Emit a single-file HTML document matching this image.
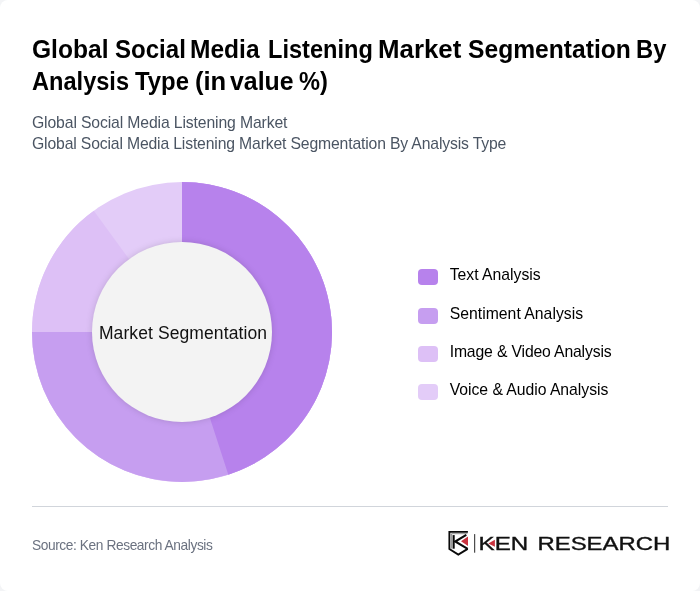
<!DOCTYPE html>
<html lang="en"><head><meta charset="utf-8"><title>Global Social Media Listening Market Segmentation By Analysis Type</title>
<style>
*{box-sizing:border-box;margin:0;padding:0}
html,body{width:700px;height:591px;background:#f3f4f6;overflow:hidden}
body{font-family:"Liberation Sans",sans-serif;position:relative}
.card{position:absolute;left:0;top:0;width:700px;height:591px;background:#fff;border-radius:8px;overflow:hidden}
h1{position:absolute;left:32px;top:32.5px;font-size:26.25px;font-weight:700;line-height:32.5px;color:#000;white-space:nowrap}
h1 span span{position:absolute;top:0;transform-origin:0 0}
h1 .l2 span{top:32.5px}
.sub{position:absolute;left:32px;top:112px;font-size:15.75px;line-height:21px;color:#4b5563;white-space:nowrap}
.donut{position:absolute;left:32px;top:182px;width:300px;height:300px}
.center{position:absolute;left:83px;width:200px;text-align:center;top:322px;line-height:22px;font-size:17.5px;color:#111;white-space:nowrap;letter-spacing:.1px}
.legend{position:absolute;left:418px;top:0;list-style:none}
.legend li{position:absolute;left:0;height:16px;font-size:15.75px;line-height:16px;color:#000;white-space:nowrap;padding-left:31.7px}
.legend i{position:absolute;left:0;top:0;width:20px;height:16px;border-radius:4px}
.legend span{position:relative;top:-2.5px}
.hr{position:absolute;left:32px;top:506px;width:636px;height:1px;background:#d1d5db}
.src{position:absolute;left:32px;top:537px;font-size:13.75px;line-height:18px;color:#6b7280;white-space:nowrap;letter-spacing:-.42px}
.logo{position:absolute;left:440px;top:524px;width:240px;height:40px}
</style></head><body>
<div class="card">
<h1><span class="l1"><span style="left:0.31px;transform:scaleX(0.9365)">Global</span> <span style="left:82.81px;transform:scaleX(0.9164)">Social</span> <span style="left:158.36px;transform:scaleX(0.9347)">Media</span> <span style="left:235.93px;transform:scaleX(0.8985)">Listening</span> <span style="left:346.28px;transform:scaleX(0.9848)">Market</span> <span style="left:436.05px;transform:scaleX(0.9387)">Segmentation</span> <span style="left:604.42px;transform:scaleX(0.9048)">By</span></span> <span class="l2"><span style="left:-0.17px;transform:scaleX(0.8988)">Analysis</span> <span style="left:103.27px;transform:scaleX(0.9099)">Type</span> <span style="left:163.28px;transform:scaleX(0.9744)">(in</span> <span style="left:198.26px;transform:scaleX(0.9470)">value</span> <span style="left:267.32px;transform:scaleX(0.9000)">%)</span></span></h1>
<div class="sub"><span style="letter-spacing:-.13px">Global Social Media Listening Market</span><br><span style="letter-spacing:-.16px">Global Social Media Listening Market Segmentation By Analysis Type</span></div>
<svg class="donut" viewBox="0 0 300 300">
<circle cx="150" cy="150" r="150" fill="#e3ccf8"/>
<path d="M150 150 L150.000 0.000 A150 150 0 1 1 61.832 28.647 Z" fill="#ddc0f6"/>
<path d="M150 150 L150.000 0.000 A150 150 0 1 1 0.000 150.000 Z" fill="#c69ef0"/>
<path d="M150 150 L150.000 0.000 A150 150 0 0 1 196.353 292.658 Z" fill="#b782ec"/>
<circle cx="150" cy="150" r="90" fill="#f3f3f3" style="filter:drop-shadow(0 0 3px rgba(0,0,0,.14))"/>
</svg>
<div class="center">Market Segmentation</div>
<ul class="legend">
<li style="top:269px;letter-spacing:-.01px"><i style="background:#b782ec"></i><span>Text Analysis</span></li>
<li style="top:308px;letter-spacing:.02px"><i style="background:#c69ef0"></i><span>Sentiment Analysis</span></li>
<li style="top:346px;letter-spacing:-.155px"><i style="background:#ddc0f6"></i><span>Image &amp; Video Analysis</span></li>
<li style="top:384px;letter-spacing:-.035px"><i style="background:#e3ccf8"></i><span>Voice &amp; Audio Analysis</span></li>
</ul>
<div class="hr"></div>
<div class="src">Source: Ken Research Analysis</div>
<svg class="logo" viewBox="440 524 240 40">
<g fill="none" stroke="#0a0a0a" stroke-linejoin="miter" stroke-linecap="butt">
<path d="M467.9 531.9H449.4V549L458.3 554.6L467.7 548.9" stroke-width="1.9"/>
<path d="M467.5 533.7H451.6V548.6" stroke-width=".6" stroke="#444"/>
<path d="M453.65 535.1V548.7" stroke-width="2.1"/>
<path d="M466.3 534.9L455.2 541.5L467.7 548.9" stroke-width="2.1"/>
</g>
<path d="M461 541.3L468 536.5V546Z" fill="#c9333f"/>
<rect x="474.1" y="534.1" width="1.1" height="18.6" fill="#3a3a3a"/>
<path d="M488.3 543.4L494.9 539.7V546.7Z" fill="#c9333f"/>
<text x="478.6" y="549.6" font-family="'Liberation Sans',sans-serif" font-size="17.9" fill="#111" stroke="#111" stroke-width=".35" textLength="49.6" lengthAdjust="spacingAndGlyphs">KEN</text>
<text x="537.4" y="549.6" font-family="'Liberation Sans',sans-serif" font-size="17.9" fill="#111" stroke="#111" stroke-width=".35" textLength="133" lengthAdjust="spacingAndGlyphs">RESEARCH</text>
</svg>
</div>
</body></html>
